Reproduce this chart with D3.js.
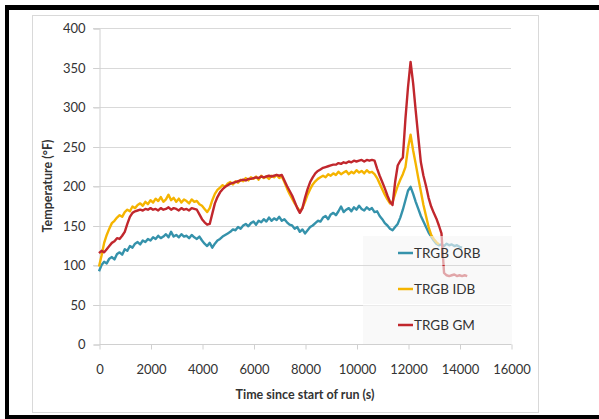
<!DOCTYPE html>
<html>
<head>
<meta charset="utf-8">
<script src="https://cdn.jsdelivr.net/npm/d3@7"></script>
<style>
  body { margin: 0; background: #fff; }
  text { font-family: Lato, "Open Sans", sans-serif; fill: #333; }
  .tick line { stroke: #d0d0d0; }
  .domain { stroke: #d0d0d0; }
</style>
</head>
<body>
<svg class="temp-chart" width="599" height="419"></svg>
<script>
// one reading every 100 s from the start of the run
const sampleInterval = 100;

const seriesNames = ["TRGB ORB", "TRGB IDB", "TRGB GM"];
const seriesColors = ["#3592ab", "#f5b400", "#c1272d"];

const orbValues = [
  92, 100, 104, 102, 108, 110, 107, 114, 116, 113,
  120, 118, 124, 122, 127, 129, 126, 131, 129, 133,
  131, 135, 133, 137, 134, 136, 139, 135, 142, 136,
  138, 135, 139, 136, 137, 134, 138, 135, 133, 136,
  131, 127, 124, 128, 122, 127, 131, 133, 136, 138,
  140, 142, 145, 144, 148, 146, 150, 152, 149, 153,
  155, 151, 156, 154, 158, 155, 160, 156, 159, 157,
  161, 156, 158, 154, 151, 150, 146, 148, 142, 145,
  140, 144, 148, 150, 153, 156, 155, 160, 162, 158,
  164, 166, 163, 168, 174, 167, 170, 172, 168, 173,
  170, 175, 171, 169, 173, 170, 172, 167, 168, 162,
  158, 153, 150, 146, 144, 148, 152, 160, 170, 182,
  194, 199, 190, 180, 171, 162, 155, 148, 141, 136,
  131, 127, 125, 126, 124, 127, 125, 126, 124, 125,
  123, 122
];

const idbValues = [
  98, 112, 128, 138, 146, 153, 156, 160, 163, 161,
  167, 170, 168, 174, 172, 176, 178, 175, 180, 177,
  182, 179, 184, 181, 186, 180, 183, 189, 182, 185,
  180, 184, 179, 183, 181, 178, 183, 180, 181, 177,
  175, 171, 167, 172, 182, 190, 195, 198, 201, 199,
  203, 205, 202, 206, 204, 208, 206, 210, 207, 211,
  209, 212, 208, 213, 210, 212, 209, 213, 211, 214,
  210, 212, 205, 197, 190, 184, 178, 173, 168, 172,
  180, 189, 196, 202, 206, 209, 211, 213, 211, 215,
  213, 216, 214, 218, 215, 217, 219, 215, 218, 216,
  220, 217, 219, 216, 220, 217, 218, 215, 210, 203,
  196, 189, 183, 178, 180, 190, 200, 208, 215, 224,
  248, 265, 245, 228, 210, 193, 176, 162, 148, 138,
  133, 129, 126
];

const gmValues = [
  115, 118, 116, 120, 124, 128, 130, 134, 133, 137,
  142, 152, 161, 166, 168, 169, 170, 169, 171, 170,
  172, 170, 171, 169, 172, 170, 171, 173, 170, 172,
  171, 169, 172, 170, 171, 169, 172, 171, 170, 164,
  158, 154, 151, 152, 165, 178, 186, 192, 196, 199,
  201, 203, 204, 205, 206, 207, 208, 207, 209, 209,
  210, 211, 210, 212, 211, 212, 213, 212, 213, 214,
  213, 214, 207, 200, 194, 188, 180, 172, 166, 172,
  185, 196, 205, 211, 216, 219, 221, 223, 224, 225,
  226, 227, 227, 229, 228, 230, 229, 231, 230, 232,
  231, 232, 233, 231, 233, 232, 233, 232, 222, 213,
  205, 197, 188, 180, 176, 205, 226, 232, 236, 285,
  325, 357, 330, 295, 262, 230, 213, 200, 185, 174,
  166, 159, 150, 140, 90, 87, 86, 87, 88, 86,
  87, 86, 87, 86
];

const xTicks = [0, 2000, 4000, 6000, 8000, 10000, 12000, 14000, 16000];
const yTicks = [0, 50, 100, 150, 200, 250, 300, 350, 400];

const svg = d3.select(".temp-chart");

const plotLeft = 99, plotRight = 511, plotTop = 28, plotBottom = 344;

const xScale = d3.scaleLinear().domain([0, 16000]).range([plotLeft, plotRight]);
const yScale = d3.scaleLinear().domain([0, 400]).range([plotBottom, plotTop]);

// frame: black outer edge and light grey chart area
svg.append("rect").attr("x", 5).attr("y", 5).attr("width", 594).attr("height", 5).attr("fill", "#000");
svg.append("rect").attr("x", 5).attr("y", 5).attr("width", 4).attr("height", 414).attr("fill", "#000");
svg.append("rect").attr("x", 5).attr("y", 415).attr("width", 594).attr("height", 4).attr("fill", "#000");
svg.append("rect")
  .attr("x", 32.5).attr("y", 15.5).attr("width", 506).attr("height", 397)
  .attr("fill", "#fff").attr("stroke", "#d9d9d9");

// horizontal grid
svg.append("g")
  .selectAll("line")
  .data(yTicks.slice(1))
  .enter()
  .append("line")
  .attr("x1", plotLeft - 6)
  .attr("x2", plotRight)
  .attr("y1", (d) => Math.round(yScale(d)) + 0.5)
  .attr("y2", (d) => Math.round(yScale(d)) + 0.5)
  .attr("stroke", "#d9d9d9");

const yAxis = svg.append("g")
  .attr("transform", `translate(${plotLeft + 0.5}, 0.5)`)
  .call(d3.axisLeft(yScale).tickValues(yTicks).tickSize(6).tickPadding(8));
yAxis.selectAll("text").style("font-size", "13px").attr("fill", "#333");

const xAxis = svg.append("g")
  .attr("transform", `translate(0.5, ${plotBottom + 0.5})`)
  .call(d3.axisBottom(xScale).tickValues(xTicks).tickSize(5).tickPadding(15).tickFormat(d3.format("d")));
xAxis.selectAll("text").style("font-size", "13px").attr("fill", "#333");
xAxis.select(".domain").attr("d", `M${plotLeft},0H${plotRight}`);

const allSeries = [orbValues, idbValues, gmValues];

const line = d3.line()
  .x((v, i) => xScale(i * sampleInterval))
  .y((v) => yScale(v));

svg.append("g")
  .selectAll("path")
  .data(allSeries)
  .enter()
  .append("path")
  .attr("d", (s) => line(s))
  .attr("fill", "none")
  .attr("stroke", (s, i) => seriesColors[i])
  .attr("stroke-width", 2.4)
  .attr("stroke-linejoin", "round");

// legend sits over the lines, half transparent
const legendRows = [[236, 265], [266, 304], [305, 344]];
const legend = svg.append("g");

legend.selectAll("rect")
  .data(legendRows)
  .enter()
  .append("rect")
  .attr("x", 363)
  .attr("y", (r) => r[0])
  .attr("width", 149)
  .attr("height", (r) => r[1] - r[0])
  .attr("fill", "rgba(245,245,245,0.62)");

const entries = legend.selectAll(".entry")
  .data(seriesNames)
  .enter()
  .append("g")
  .attr("class", "entry")
  .attr("transform", (d, i) => `translate(398, ${[253, 289, 325][i]})`);

entries.append("line")
  .attr("x1", 0).attr("x2", 15)
  .attr("stroke", (d, i) => seriesColors[i])
  .attr("stroke-width", 2.5);

entries.append("text")
  .attr("x", 16)
  .attr("dy", "0.35em")
  .style("font-size", "13.5px")
  .text((d) => d);

svg.append("text")
  .attr("x", 305)
  .attr("y", 399)
  .attr("text-anchor", "middle")
  .style("font-size", "12.5px")
  .style("font-weight", "bold")
  .text("Time since start of run (s)");

svg.append("text")
  .attr("transform", "translate(52, 186) rotate(-90)")
  .attr("text-anchor", "middle")
  .style("font-size", "12.5px")
  .style("font-weight", "bold")
  .text("Temperature (°F)");
</script>
</body>
</html>
